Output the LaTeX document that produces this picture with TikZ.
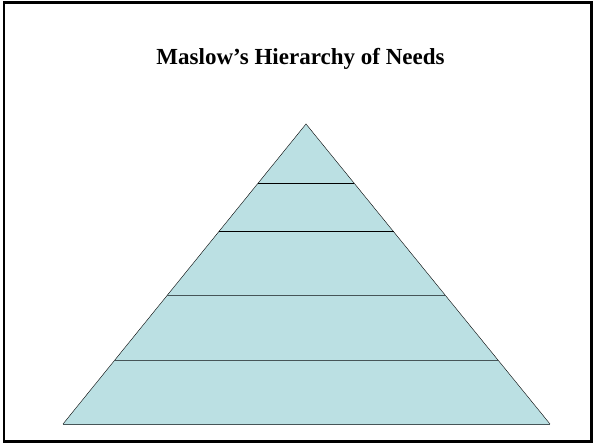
\documentclass[tikz,border=0pt]{standalone}
\usepackage{fontspec}
\setmainfont{Liberation Serif}
\usetikzlibrary{calc}
\definecolor{pyrfill}{RGB}{187,224,227}
\definecolor{tierline}{RGB}{70,85,88}

\begin{document}
\begin{tikzpicture}[x=1pt,y=-1pt]
\useasboundingbox (0,0) rectangle (593,443);
\draw[line width=2.5pt] (4,2.5) rectangle (591.5,441.5);
\node[font=\fontsize{23}{27}\selectfont\bfseries] (title) at (300.5,58.5) {Maslow’s Hierarchy of Needs};
% pyramid
\coordinate (apex) at (306,124);
\coordinate (bl) at (63,424);
\coordinate (br) at (550,424);
\fill[pyrfill] (apex) -- (bl) -- (br) -- cycle;
\draw (bl) -- (apex) -- (br);
\draw[tierline, line width=1pt] (bl) -- (br);
% tiers
\foreach \t/\c in {0.197/black, 0.36/black, 0.573/tierline, 0.787/tierline}
  \draw[\c, line width=1pt] ($(apex)!\t!(bl)$) -- ($(apex)!\t!(br)$);
\end{tikzpicture}
\end{document}
